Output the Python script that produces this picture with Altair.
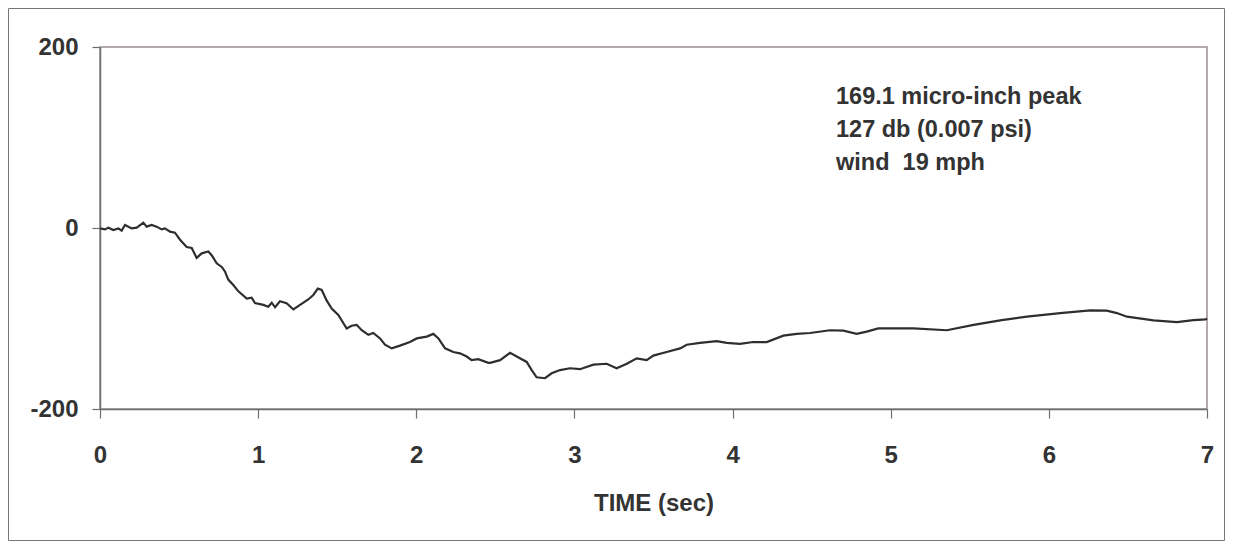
import altair as alt
import pandas as pd

# time (sec) and displacement (micro-inch)
t = [0.0, 0.032, 0.053, 0.084, 0.116, 0.137, 0.158, 0.2, 0.232, 0.274, 0.295, 0.327, 0.358, 0.39, 0.411,
     0.443, 0.474, 0.506, 0.548, 0.58, 0.611, 0.643, 0.685, 0.706, 0.738, 0.77, 0.79, 0.811, 0.843, 0.875,
     0.928, 0.959, 0.98, 1.033, 1.064, 1.086, 1.107, 1.138, 1.18, 1.223, 1.265, 1.317, 1.349, 1.377, 1.402,
     1.433, 1.465, 1.507, 1.56, 1.591, 1.623, 1.655, 1.697, 1.728, 1.771, 1.802, 1.845, 1.897, 1.96, 2.003,
     2.066, 2.108, 2.14, 2.182, 2.234, 2.276, 2.319, 2.35, 2.392, 2.456, 2.467, 2.53, 2.593, 2.635, 2.698,
     2.73, 2.761, 2.814, 2.856, 2.909, 2.972, 3.035, 3.12, 3.204, 3.267, 3.331, 3.394, 3.457, 3.499, 3.583,
     3.668, 3.71, 3.794, 3.9, 3.963, 4.047, 4.131, 4.216, 4.321, 4.405, 4.49, 4.616, 4.7, 4.785, 4.848,
     4.922, 5.144, 5.355, 5.524, 5.692, 5.861, 6.072, 6.262, 6.366, 6.43, 6.494, 6.662, 6.81, 6.914, 6.99, 7.0]
v = [-0.4, -1.5, 0.4, -2.2, -0.4, -3, 3.3, -0.4, 0.4, 5.9, 1.5, 3.3, 1.5, -1.5, -0.4,
     -4, -5.2, -13, -21, -22, -33, -28, -26, -30, -39, -43, -48, -57, -63, -70,
     -78, -77, -83, -85, -87, -82.5, -87.6, -81, -83, -90, -85, -79, -74, -67, -68.5,
     -80, -89, -96, -111, -108, -107, -113, -118, -116, -122, -129, -133, -130, -126, -122,
     -120, -117, -122, -133, -137, -138.5, -142, -146, -145, -149, -149, -146, -138, -142, -148,
     -157, -165, -166, -160.5, -157, -155, -156, -151, -150, -155, -150, -144, -146, -141, -137,
     -133, -129, -127, -125, -127, -128, -126, -126, -119, -117, -116, -113, -113.5, -117, -114.5,
     -111, -111, -113, -107, -102, -98, -94, -91, -91.4, -94, -98, -102, -104, -101.7, -101, -100]

x_ticks = [0, 1, 2, 3, 4, 5, 6, 7]
y_ticks = [-200, 0, 200]

note_lines = ["169.1 micro-inch peak", "127 db (0.007 psi)", "wind\u00a0 19 mph"]
note_x = [4.654, 4.654, 4.654]
note_y = [145, 108.5, 72]

FONT = "Liberation Sans"
TXT = "#333333"

trace = pd.DataFrame({"t": t, "v": v})
notes = pd.DataFrame({"x": note_x, "y": note_y, "label": note_lines})

W, H = 1107, 362
PAD = {"left": 92, "top": 39, "right": 18, "bottom": 132}

xs = alt.Scale(domain=[0, 7], nice=False, zero=False)
ys = alt.Scale(domain=[-200, 200], nice=False, zero=False)

line = alt.Chart(trace).mark_line(color="#2e2e2e", strokeWidth=2.2).encode(
    x=alt.X("t:Q", scale=xs, axis=alt.Axis(
        values=x_ticks, title="TIME (sec)", grid=False, labelFlush=False,
        labelExpr="toString(datum.value)",
        tickSize=9, labelPadding=25, titlePadding=24,
    )),
    y=alt.Y("v:Q", scale=ys, axis=alt.Axis(
        values=y_ticks, title=None, grid=False, labelFlush=False,
        labelExpr="toString(datum.value)",
        tickSize=8, labelPadding=14,
    )),
)

text = alt.Chart(notes).mark_text(
    align="left", baseline="middle", font=FONT, fontSize=23.5, fontWeight="bold", color=TXT
).encode(
    x=alt.X("x:Q", scale=xs),
    y=alt.Y("y:Q", scale=ys),
    text="label:N",
)

frame = alt.Chart(pd.DataFrame({"k": [0]})).mark_rect(
    fill=None, stroke="#777777", strokeWidth=1
).encode(
    x=alt.value(-PAD["left"] + 0.5),
    x2=alt.value(W + PAD["right"] - 0.5),
    y=alt.value(-PAD["top"] + 0.5),
    y2=alt.value(H + PAD["bottom"] - 0.5),
)

chart = alt.layer(frame, line, text).properties(
    width=W, height=H,
    autosize=alt.AutoSizeParams(type="none"),
    padding=PAD,
    background="white",
).configure_view(
    stroke="#9b8f8f", strokeWidth=1.5
).configure_axis(
    domainColor="#6e6e6e", domainWidth=1.5, tickColor="#6e6e6e", tickWidth=1.2,
    labelFont=FONT, labelFontSize=24, labelFontWeight="bold", labelColor=TXT,
    titleFont=FONT, titleFontSize=24, titleFontWeight="bold", titleColor=TXT,
)

chart.save("out.html", embed_options={"renderer": "svg", "actions": False})
